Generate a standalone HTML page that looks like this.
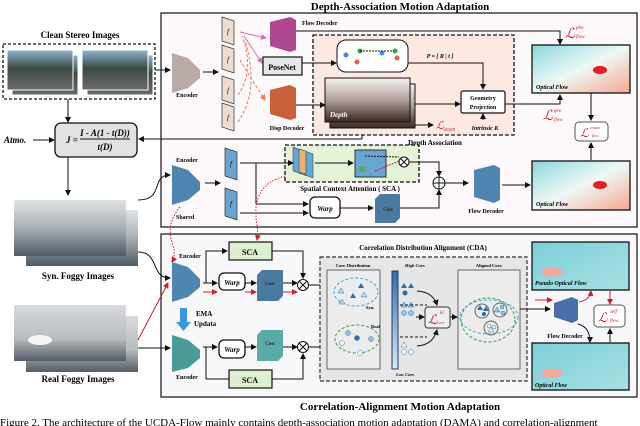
<!DOCTYPE html>
<html><head><meta charset="utf-8"><style>
body{margin:0;background:#fff}
svg{display:block;font-family:"Liberation Serif",serif}
.b{font-weight:bold}
</style></head><body>
<svg width="640" height="426" viewBox="0 0 640 426" xmlns="http://www.w3.org/2000/svg">
<defs>
<marker id="a" markerWidth="6" markerHeight="6" refX="5" refY="3" orient="auto"><path d="M0,0 L6,3 L0,6 z" fill="#111"/></marker>
<marker id="ar" markerWidth="6" markerHeight="6" refX="5" refY="3" orient="auto"><path d="M0,0 L6,3 L0,6 z" fill="#c8202a"/></marker>
<marker id="ap" markerWidth="6" markerHeight="6" refX="5" refY="3" orient="auto"><path d="M0,0 L6,3 L0,6 z" fill="#d070b0"/></marker>
<marker id="ao" markerWidth="6" markerHeight="6" refX="5" refY="3" orient="auto"><path d="M0,0 L6,3 L0,6 z" fill="#f07850"/></marker>
<linearGradient id="sky" x1="0" y1="0" x2="0" y2="1"><stop offset="0" stop-color="#8fb8d8"/><stop offset=".45" stop-color="#3a4a40"/><stop offset="1" stop-color="#6a6a6a"/></linearGradient>
<linearGradient id="fog" x1="0" y1="0" x2="0" y2="1"><stop offset="0" stop-color="#dfe3e6"/><stop offset=".5" stop-color="#a8b0b4"/><stop offset="1" stop-color="#4f5a66"/></linearGradient>
<linearGradient id="rfog" x1="0" y1="0" x2="0" y2="1"><stop offset="0" stop-color="#d8dadc"/><stop offset=".6" stop-color="#b8bcc0"/><stop offset="1" stop-color="#555c64"/></linearGradient>
<linearGradient id="dep" x1="0" y1="0" x2="0" y2="1"><stop offset="0" stop-color="#f4f0ee"/><stop offset=".5" stop-color="#b0a09a"/><stop offset="1" stop-color="#3a2820"/></linearGradient>
<linearGradient id="of" x1="0" y1="0" x2="1" y2="1"><stop offset="0" stop-color="#8cd6dc"/><stop offset=".5" stop-color="#eef8f6"/><stop offset="1" stop-color="#f4a890"/></linearGradient>
<linearGradient id="cy" x1="0" y1="0" x2="1" y2="1"><stop offset="0" stop-color="#7ccfd8"/><stop offset="1" stop-color="#a8e0e4"/></linearGradient>
<linearGradient id="bar" x1="0" y1="0" x2="0" y2="1"><stop offset="0" stop-color="#2a70a8"/><stop offset="1" stop-color="#d8ecf8"/></linearGradient>
</defs>

<!-- titles -->
<text x="400" y="10" text-anchor="middle" class="b" font-size="11">Depth-Association Motion Adaptation</text>
<text x="400" y="410" text-anchor="middle" class="b" font-size="11">Correlation-Alignment Motion Adaptation</text>
<text x="0" y="426" font-size="11">Figure 2. The architecture of the UCDA-Flow mainly contains depth-association motion adaptation (DAMA) and correlation-alignment</text>

<!-- main boxes -->
<rect x="161" y="13" width="476" height="214" fill="#fdf8fa" stroke="#222" stroke-width="1.3"/>
<rect x="161" y="234" width="476" height="163" fill="#f8f8fb" stroke="#222" stroke-width="1.3"/>

<!-- left column -->
<text x="80" y="38" text-anchor="middle" class="b" font-size="9">Clean Stereo Images</text>
<rect x="3" y="44" width="152" height="55" fill="none" stroke="#111" stroke-dasharray="3,2" stroke-width="1.3"/>
<rect x="12" y="55" width="66" height="40" fill="url(#sky)" stroke="#fff"/>
<rect x="7" y="50" width="66" height="40" fill="url(#sky)" stroke="#fff"/>
<rect x="87" y="55" width="66" height="40" fill="url(#sky)" stroke="#fff"/>
<rect x="82" y="50" width="66" height="40" fill="url(#sky)" stroke="#fff"/>
<line x1="155" y1="70" x2="170" y2="70" stroke="#111" marker-end="url(#a)"/>
<line x1="68" y1="99" x2="68" y2="122" stroke="#111" marker-end="url(#a)"/>
<rect x="55" y="123" width="82" height="34" rx="6" fill="#e2e2e2" stroke="#111" stroke-width="1.3"/>
<text x="66" y="143" font-size="9" font-style="italic" class="b">J =</text>
<text x="105" y="136" text-anchor="middle" font-size="9" font-style="italic" class="b">I - A(1 - t(D))</text>
<line x1="80" y1="139" x2="130" y2="139" stroke="#111"/>
<text x="105" y="150" text-anchor="middle" font-size="9" font-style="italic" class="b">t(D)</text>
<text x="4" y="143" font-size="9" font-style="italic" class="b">Atmo.</text>
<line x1="33" y1="140" x2="54" y2="140" stroke="#111" marker-end="url(#a)"/>
<polyline points="362,112 362,139 139,139" fill="none" stroke="#111" marker-end="url(#a)"/>
<line x1="68" y1="157" x2="68" y2="195" stroke="#111" marker-end="url(#a)"/>
<rect x="26" y="210" width="112" height="56" fill="url(#fog)"/>
<rect x="14" y="200" width="112" height="56" fill="url(#fog)"/>
<text x="78" y="279" text-anchor="middle" class="b" font-size="9">Syn. Foggy Images</text>
<rect x="26" y="316" width="112" height="56" fill="url(#rfog)"/>
<rect x="14" y="305" width="112" height="56" fill="url(#rfog)"/>
<ellipse cx="40" cy="340" rx="12" ry="5" fill="#f4f4f4"/>
<text x="78" y="382" text-anchor="middle" class="b" font-size="9">Real Foggy Images</text>
<path d="M138,200 C165,200 150,175 170,175" fill="none" stroke="#111" marker-end="url(#a)"/>
<path d="M138,252 C160,252 150,278 170,278" fill="none" stroke="#111" marker-end="url(#a)"/>
<line x1="138" y1="348" x2="170" y2="348" stroke="#111" marker-end="url(#a)"/>
<line x1="138" y1="340" x2="168" y2="283" stroke="#c8202a" marker-end="url(#ar)"/>

<!-- DAMA top -->
<polygon points="172,53 188,58 200,70 200,78 188,88 172,93" fill="#b8aca8"/>
<text x="187" y="97" text-anchor="middle" class="b" font-size="6">Encoder</text>
<line x1="203" y1="72" x2="218" y2="72" stroke="#111" marker-end="url(#a)"/>
<g fill="#ecdcd2" stroke="#333" stroke-width=".7">
<polygon points="222,17 234,21 234,45 222,41"/>
<polygon points="222,45 234,49 234,73 222,69"/>
<polygon points="222,76 234,80 234,104 222,100"/>
<polygon points="222,103 234,107 234,131 222,127"/>
</g>
<g font-size="7" font-style="italic" text-anchor="middle"><text x="228" y="34">f</text><text x="228" y="62">f</text><text x="228" y="93">f</text><text x="228" y="120">f</text></g>
<path d="M240,32 L266,38" stroke="#d070b0" marker-end="url(#ap)"/>
<path d="M244,36 L262,63" stroke="#d070b0" marker-end="url(#ap)"/>
<path d="M240,60 Q252,80 265,100" fill="none" stroke="#f07850" stroke-dasharray="3,2" marker-end="url(#ao)"/>
<path d="M238,95 Q255,70 242,36" fill="none" stroke="#f07850" stroke-dasharray="3,2"/>
<path d="M238,122 Q260,90 245,40" fill="none" stroke="#f07850" stroke-dasharray="3,2"/>
<polygon points="270,22 290,17 296,20 296,50 290,52 270,46" fill="#b04890"/>
<text x="302" y="25" class="b" font-size="6">Flow Decoder</text>
<rect x="263" y="57" width="39" height="18" fill="#e8e8e8" stroke="#111" stroke-width="1.2"/>
<text x="282" y="70" text-anchor="middle" class="b" font-size="8">PoseNet</text>
<polygon points="270,90 290,85 296,88 296,118 290,120 270,114" fill="#c8603a"/>
<text x="287" y="130" text-anchor="middle" class="b" font-size="6">Disp Decoder</text>
<polyline points="296,31 560,31 560,44" fill="none" stroke="#111" marker-end="url(#a)"/>
<rect x="313" y="35" width="201" height="100" fill="#fde9e2" stroke="#111" stroke-dasharray="4,2" stroke-width="1.3"/>
<text x="435" y="145" text-anchor="middle" class="b" font-size="7">Depth Association</text>
<line x1="302" y1="63" x2="336" y2="63" stroke="#111" marker-end="url(#a)"/>
<rect x="337" y="40" width="71" height="32" rx="9" fill="#fff" stroke="#111"/>
<circle cx="346" cy="55" r="2.5" fill="#3a8ee0"/><circle cx="360" cy="51" r="2.5" fill="#3aa040"/><circle cx="357" cy="62" r="2.5" fill="#e06040"/>
<circle cx="382" cy="53" r="2.5" fill="#3a8ee0"/><circle cx="395" cy="51" r="2.5" fill="#3aa040"/><circle cx="397" cy="58" r="2.5" fill="#e06040"/>
<line x1="360" y1="51" x2="393" y2="51" stroke="#111" stroke-dasharray="2,1"/>
<text x="440" y="58" text-anchor="middle" class="b" font-size="6" font-style="italic">P = [ R | t ]</text>
<polyline points="408,63 483,63 483,89" fill="none" stroke="#111" marker-end="url(#a)"/>
<rect x="330" y="84" width="85" height="44" fill="url(#dep)" stroke="#111"/>
<rect x="325" y="78" width="85" height="44" fill="url(#dep)" stroke="#111"/>
<text x="330" y="117" class="b" font-size="7" font-style="italic" fill="#fff">Depth</text>
<polyline points="296,105 325,105" fill="none" stroke="#111" marker-end="url(#a)"/>
<line x1="415" y1="104" x2="460" y2="104" stroke="#111" marker-end="url(#a)"/>
<line x1="415" y1="125" x2="433" y2="125" stroke="#111" marker-end="url(#a)"/>
<text x="436" y="129" fill="#c8202a" font-size="11" font-style="italic">ℒ</text><text x="444" y="131" fill="#c8202a" font-size="5" font-style="italic">depth</text>
<rect x="461" y="91" width="44" height="22" rx="2" fill="#fff" stroke="#111" stroke-width="1.2"/>
<text x="483" y="100" text-anchor="middle" class="b" font-size="6">Geometry</text>
<text x="483" y="109" text-anchor="middle" class="b" font-size="6">Projection</text>
<line x1="483" y1="120" x2="483" y2="114" stroke="#111" marker-end="url(#a)"/>
<text x="485" y="130" text-anchor="middle" class="b" font-size="6" font-style="italic">Intrinsic K</text>
<polyline points="505,104 560,104 560,95" fill="none" stroke="#111" marker-end="url(#a)"/>
<text x="565" y="38" fill="#c8202a" font-size="14" font-style="italic">ℒ</text><text x="576" y="29" fill="#c8202a" font-size="5" font-style="italic">pho</text><text x="576" y="38" fill="#c8202a" font-size="5" font-style="italic">flow</text>
<text x="543" y="120" fill="#c8202a" font-size="14" font-style="italic">ℒ</text><text x="554" y="112" fill="#c8202a" font-size="5" font-style="italic">geo</text><text x="554" y="121" fill="#c8202a" font-size="5" font-style="italic">flow</text>
<rect x="532" y="45" width="98" height="48" fill="url(#of)" stroke="#111" stroke-width="1.3"/>
<ellipse cx="600" cy="70" rx="7" ry="4" fill="#e02020"/>
<text x="536" y="89" class="b" font-size="6" font-style="italic">Optical Flow</text>
<line x1="591" y1="93" x2="591" y2="120" stroke="#111" marker-end="url(#a)"/>
<rect x="575" y="122" width="33" height="19" rx="4" fill="#fff" stroke="#555"/>
<text x="580" y="137" fill="#c8202a" font-size="12" font-style="italic">ℒ</text><text x="590" y="129" fill="#c8202a" font-size="4" font-style="italic">consis</text><text x="592" y="137" fill="#c8202a" font-size="4" font-style="italic">flow</text>
<line x1="591" y1="160" x2="591" y2="143" stroke="#111" marker-end="url(#a)"/>
<rect x="532" y="161" width="98" height="49" fill="url(#of)" stroke="#111" stroke-width="1.3"/>
<ellipse cx="600" cy="185" rx="7" ry="4" fill="#e02020"/>
<text x="536" y="206" class="b" font-size="6" font-style="italic">Optical Flow</text>

<!-- DAMA lower -->
<text x="187" y="162" text-anchor="middle" class="b" font-size="6">Encoder</text>
<polygon points="172,165 188,170 200,182 200,190 188,200 172,205" fill="#4f86b0"/>
<text x="176" y="219" class="b" font-size="6">Shared</text>
<line x1="205" y1="183" x2="220" y2="183" stroke="#111" marker-end="url(#a)"/>
<polygon points="225,148 237,152 237,180 225,176" fill="#6aa4d0" stroke="#333" stroke-width=".7"/>
<polygon points="225,188 237,192 237,220 225,216" fill="#6aa4d0" stroke="#333" stroke-width=".7"/>
<text x="231" y="166" text-anchor="middle" font-size="7" font-style="italic">f</text>
<text x="231" y="206" text-anchor="middle" font-size="7" font-style="italic">f</text>
<rect x="285" y="145" width="134" height="37" fill="#e4f2d8" stroke="#111" stroke-dasharray="4,2" stroke-width="1.3"/>
<text x="350" y="191" text-anchor="middle" class="b" font-size="7">Spatial Context Attention ( SCA )</text>
<g fill="#6aa4d0" stroke="#333" stroke-width=".5"><polygon points="299,149 307,152 307,176 299,173"/><polygon points="293,147 301,150 301,174 293,171"/><polygon points="305,151 313,154 313,178 305,175"/><polygon points="299,149 306,151 306,174 299,172" fill="#e8b070"/></g>
<line x1="240" y1="163" x2="293" y2="163" stroke="#111" marker-end="url(#a)"/>
<line x1="256" y1="163" x2="256" y2="204" stroke="#111"/>
<line x1="256" y1="204" x2="308" y2="204" stroke="#111" marker-end="url(#a)"/>
<line x1="240" y1="213" x2="308" y2="213" stroke="#111" marker-end="url(#a)"/>
<line x1="315" y1="163" x2="353" y2="163" stroke="#111" marker-end="url(#a)"/>
<rect x="355" y="150" width="31" height="27" fill="#6aa4d0" stroke="#333"/>
<circle cx="362" cy="169" r="3" fill="#4ab050"/>
<line x1="365" y1="156" x2="399" y2="157" stroke="#111" stroke-dasharray="2,1"/>
<line x1="375" y1="171" x2="399" y2="161" stroke="#c8202a" stroke-dasharray="2,1"/>
<circle cx="404" cy="162" r="5" fill="#fff" stroke="#111"/>
<path d="M400.5,158.5 L407.5,165.5 M407.5,158.5 L400.5,165.5" stroke="#111"/>
<polyline points="409,162 439,162 439,176" fill="none" stroke="#111" marker-end="url(#a)"/>
<circle cx="439" cy="183" r="6" fill="#fff" stroke="#111"/>
<path d="M433,183 H445 M439,177 V189" stroke="#111"/>
<line x1="445" y1="183" x2="468" y2="183" stroke="#111" marker-end="url(#a)"/>
<rect x="310" y="197" width="30" height="21" rx="5" fill="#fff" stroke="#111" stroke-width="1.3"/>
<text x="325" y="211" text-anchor="middle" class="b" font-size="7" font-style="italic">Warp</text>
<line x1="340" y1="208" x2="373" y2="208" stroke="#111" marker-end="url(#a)"/>
<polygon points="375,199 380,194 400,194 400,218 395,223 375,223" fill="#4a7aa0"/>
<text x="388" y="211" text-anchor="middle" class="b" font-size="5" fill="#223">Cost</text>
<polyline points="400,208 439,208 439,190" fill="none" stroke="#111" marker-end="url(#a)"/>
<polygon points="474,170 494,165 500,168 500,200 494,203 474,197" fill="#4f86b0"/>
<text x="486" y="213" text-anchor="middle" class="b" font-size="6">Flow Decoder</text>
<line x1="502" y1="185" x2="530" y2="185" stroke="#111" marker-end="url(#a)"/>
<path d="M180,207 Q165,225 173,245 Q176,255 172,262" fill="none" stroke="#c8202a" stroke-dasharray="1.5,1.5" marker-end="url(#ar)"/>
<path d="M285,176 Q250,185 257,225 Q258,235 257,240" fill="none" stroke="#c8202a" stroke-dasharray="1.5,1.5" marker-end="url(#ar)"/>

<!-- CDA left -->
<text x="190" y="258" text-anchor="middle" class="b" font-size="6">Encoder</text>
<polygon points="172,262 188,267 200,279 200,287 188,297 172,302" fill="#4f86b0"/>
<rect x="229" y="242" width="43" height="18" fill="#dcefd0" stroke="#111" stroke-width="1.2"/>
<text x="250" y="255" text-anchor="middle" class="b" font-size="8">SCA</text>
<polyline points="206,283 206,251 227,251" fill="none" stroke="#111" marker-end="url(#a)"/>
<polyline points="272,251 303,251 303,278" fill="none" stroke="#111" marker-end="url(#a)"/>
<line x1="203" y1="283" x2="217" y2="283" stroke="#111" marker-end="url(#a)"/>
<line x1="203" y1="292" x2="217" y2="292" stroke="#c8202a" marker-end="url(#ar)"/>
<rect x="219" y="273" width="26" height="17" rx="5" fill="#fff" stroke="#111" stroke-width="1.3"/>
<text x="232" y="285" text-anchor="middle" class="b" font-size="7" font-style="italic">Warp</text>
<line x1="245" y1="283" x2="256" y2="283" stroke="#111" marker-end="url(#a)"/>
<line x1="245" y1="292" x2="256" y2="292" stroke="#c8202a" marker-end="url(#ar)"/>
<polygon points="257,275 262,270 283,270 283,296 278,301 257,301" fill="#4a7aa0"/>
<text x="270" y="285" text-anchor="middle" class="b" font-size="5" fill="#223">Cost</text>
<line x1="283" y1="283" x2="297" y2="283" stroke="#111" marker-end="url(#a)"/>
<line x1="283" y1="292" x2="297" y2="292" stroke="#c8202a" marker-end="url(#ar)"/>
<circle cx="303" cy="285" r="5.5" fill="#fff" stroke="#111"/><path d="M299,281 L307,289 M307,281 L299,289" stroke="#111"/>
<line x1="309" y1="285" x2="320" y2="285" stroke="#111"/>
<polygon points="180,308 187,308 187,322 191,322 183.5,331 176,322 180,322" fill="#3a9ad8"/>
<text x="196" y="316" class="b" font-size="7">EMA</text>
<text x="194" y="326" class="b" font-size="7">Updata</text>
<polygon points="172,335 188,340 200,350 200,358 188,368 172,372" fill="#4a9a98"/>
<text x="187" y="379" text-anchor="middle" class="b" font-size="6">Encoder</text>
<line x1="203" y1="347" x2="217" y2="347" stroke="#111" marker-end="url(#a)"/>
<polyline points="206,347 206,379 229,379" fill="none" stroke="#111"/>
<rect x="219" y="340" width="26" height="18" rx="5" fill="#fff" stroke="#111" stroke-width="1.3"/>
<text x="232" y="352" text-anchor="middle" class="b" font-size="7" font-style="italic">Warp</text>
<line x1="245" y1="347" x2="256" y2="347" stroke="#111" marker-end="url(#a)"/>
<polygon points="257,335 262,330 283,330 283,356 278,361 257,361" fill="#5aaaa8"/>
<text x="270" y="345" text-anchor="middle" class="b" font-size="5" fill="#223">Cost</text>
<line x1="283" y1="347" x2="297" y2="347" stroke="#111" marker-end="url(#a)"/>
<circle cx="303" cy="347" r="5.5" fill="#fff" stroke="#111"/><path d="M299,343 L307,351 M307,343 L299,351" stroke="#111"/>
<line x1="309" y1="347" x2="320" y2="347" stroke="#111"/>
<rect x="229" y="370" width="43" height="18" fill="#dcefd0" stroke="#111" stroke-width="1.2"/>
<text x="250" y="383" text-anchor="middle" class="b" font-size="8">SCA</text>
<polyline points="272,379 303,379 303,354" fill="none" stroke="#111" marker-end="url(#a)"/>

<!-- CDA -->
<text x="423" y="250" text-anchor="middle" class="b" font-size="7">Correlation Distribution Alignment (CDA)</text>
<rect x="320" y="257" width="207" height="124" fill="#e6e6e6" stroke="#333" stroke-dasharray="4,2" stroke-width="1.2"/>
<rect x="327" y="270" width="53" height="99" fill="#ececec" stroke="#666"/>
<text x="353" y="267" text-anchor="middle" class="b" font-size="4.5">Corr. Distribution</text>
<ellipse cx="356" cy="292" rx="22" ry="14" fill="none" stroke="#3aa8e0" stroke-dasharray="3,2"/>
<ellipse cx="357" cy="339" rx="22" ry="14" fill="none" stroke="#3aa040" stroke-dasharray="3,2"/>
<g fill="#2a70a8"><polygon points="361,283 364,288 358,288"/><polygon points="353,293 356,298 350,298"/></g>
<g fill="#b8dcf0" stroke="#2a70a8" stroke-width=".5"><polygon points="341,288 344,293 338,293"/><polygon points="364,292 367,297 361,297"/><polygon points="342,299 345,304 339,304"/></g>
<text x="366" y="309" class="b" font-size="4.5">Syn.</text><text x="371" y="328" class="b" font-size="4.5">Real</text>
<g stroke="#2a70a8" stroke-width=".5"><circle cx="348" cy="333" r="2.5" fill="#8cc8ec"/><circle cx="357" cy="338" r="2.5" fill="#2a70a8"/><circle cx="371" cy="339" r="2.5" fill="#8cc8ec"/><circle cx="342" cy="343" r="2.5" fill="#fff"/><circle cx="360" cy="353" r="2.5" fill="#fff"/></g>
<rect x="392" y="271" width="6" height="98" fill="url(#bar)" stroke="#336"/>
<text x="405" y="267" font-size="4.5" font-style="italic" class="b">High Corr.</text>
<text x="396" y="376" font-size="4.5" font-style="italic" class="b">Low Corr.</text>
<g fill="#2a70a8"><polygon points="404,283 407,288 401,288"/><polygon points="411,283 414,288 408,288"/><circle cx="405" cy="293" r="2.5"/></g>
<g fill="#8cc8ec" stroke="#2a70a8" stroke-width=".5"><polygon points="404,302 407,307 401,307"/><polygon points="411,302 414,307 408,307"/><circle cx="404" cy="313" r="2.5"/><circle cx="411" cy="313" r="2.5"/></g>
<g fill="#fff" stroke="#2a70a8" stroke-width=".5"><polygon points="404,342 407,347 401,347"/><circle cx="404" cy="352" r="2.5"/><circle cx="411" cy="352" r="2.5"/></g>
<line x1="400" y1="305" x2="427" y2="305" stroke="#111" stroke-dasharray="3,2"/>
<line x1="400" y1="337" x2="427" y2="337" stroke="#111" stroke-dasharray="3,2"/>
<path d="M417,291 Q433,292 437,305" fill="none" stroke="#111" marker-end="url(#a)"/>
<path d="M417,346 Q433,345 437,330" fill="none" stroke="#111" marker-end="url(#a)"/>
<line x1="416" y1="317" x2="424" y2="317" stroke="#111" marker-end="url(#a)"/>
<rect x="425" y="307" width="25" height="21" rx="3" fill="#eee" stroke="#333"/>
<text x="428" y="324" fill="#c8202a" font-size="13" font-style="italic">ℒ</text><text x="440" y="314" fill="#c8202a" font-size="5" font-style="italic">kl</text><text x="437" y="324" fill="#c8202a" font-size="4.5" font-style="italic">corr</text>
<line x1="450" y1="317" x2="457" y2="317" stroke="#111" marker-end="url(#a)"/>
<rect x="458" y="270" width="62" height="99" fill="#ececec" stroke="#666"/>
<text x="489" y="267" text-anchor="middle" class="b" font-size="4.5">Aligned Corr.</text>
<ellipse cx="488" cy="320" rx="27" ry="22" fill="none" stroke="#3aa040" stroke-dasharray="3,2"/>
<ellipse cx="489" cy="317" rx="29" ry="17" fill="none" stroke="#3aa8e0" stroke-dasharray="3,2"/>
<circle cx="482" cy="311" r="7" fill="none" stroke="#666"/><circle cx="500" cy="310" r="7" fill="none" stroke="#666"/><circle cx="491" cy="328" r="7" fill="none" stroke="#666"/>
<g fill="#2a70a8"><polygon points="480,305 483,310 477,310"/><circle cx="484" cy="314" r="2"/><polygon points="486,306 489,311 483,311"/></g>
<g fill="#8cc8ec" stroke="#2a70a8" stroke-width=".5"><circle cx="502" cy="307" r="2"/><polygon points="497,307 500,312 494,312"/><circle cx="503" cy="313" r="2"/></g>
<g fill="#fff" stroke="#2a70a8" stroke-width=".5"><circle cx="489" cy="326" r="2"/><circle cx="494" cy="327" r="2"/><polygon points="491,327 494,332 488,332"/></g>
<line x1="520" y1="309" x2="550" y2="309" stroke="#111" marker-end="url(#a)"/>

<!-- CDA right -->
<rect x="532" y="242" width="97" height="48" fill="url(#cy)" stroke="#111" stroke-width="1.3"/>
<ellipse cx="552" cy="272" rx="11" ry="4.5" fill="#f4a898"/>
<text x="535" y="285" class="b" font-size="6" font-style="italic">Pseudo Optical Flow</text>
<polygon points="554,303 572,297 578,300 578,320 572,323 554,317" fill="#4a6ea8"/>
<line x1="535" y1="300" x2="552" y2="300" stroke="#c8202a" marker-end="url(#ar)"/>
<text x="565" y="338" text-anchor="middle" class="b" font-size="6">Flow Decoder</text>
<path d="M579,302 Q590,300 591,291" fill="none" stroke="#c8202a" marker-end="url(#ar)"/>
<path d="M578,324 Q590,327 590,342" fill="none" stroke="#111" marker-end="url(#a)"/>
<line x1="610" y1="290" x2="610" y2="304" stroke="#c8202a" marker-end="url(#ar)"/>
<rect x="594" y="305" width="31" height="22" rx="4" fill="#fff" stroke="#555"/>
<text x="598" y="322" fill="#c8202a" font-size="13" font-style="italic">ℒ</text><text x="610" y="313" fill="#c8202a" font-size="5" font-style="italic">self</text><text x="610" y="322" fill="#c8202a" font-size="5" font-style="italic">flow</text>
<line x1="610" y1="342" x2="610" y2="329" stroke="#111" marker-end="url(#a)"/>
<rect x="532" y="343" width="97" height="47" fill="url(#cy)" stroke="#111" stroke-width="1.3"/>
<ellipse cx="552" cy="373" rx="11" ry="4.5" fill="#f4a898"/>
<text x="535" y="387" class="b" font-size="6" font-style="italic">Optical Flow</text>
</svg>
</body></html>
